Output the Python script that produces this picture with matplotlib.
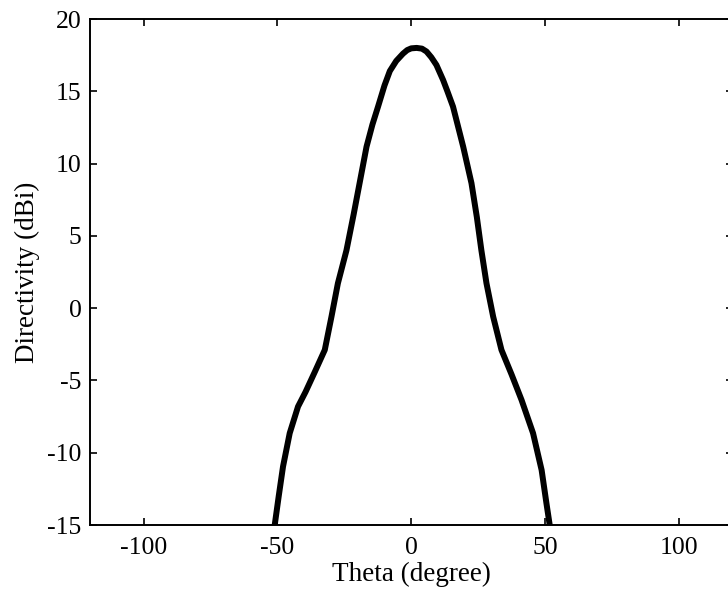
import numpy as np
import matplotlib
matplotlib.use("Agg")
import matplotlib.pyplot as plt

# directivity pattern
theta = [-53.0, -51.0, -49.5, -47.9, -45.4, -42.3, -39.5, -36.0, -32.3, -29.8,
         -27.4, -24.2, -21.5, -19.3, -16.7, -14.5, -12.4, -10.0, -8.0, -5.6,
         -3.1, -1.5, 0.0, 2.0, 4.0, 5.7, 7.5, 9.4, 11.9, 13.5,
         15.6, 19.4, 22.5, 24.5, 26.2, 28.1, 30.6, 33.7, 37.5, 41.2,
         45.5, 48.7, 50.5, 51.8, 53.0]
directivity = [-16.5, -15.0, -13.0, -10.96, -8.65, -6.81, -5.8, -4.4, -2.89, -0.59,
               1.72, 4.0, 6.5, 8.64, 11.17, 12.7, 13.94, 15.4, 16.4, 17.1,
               17.6, 17.85, 17.97, 18.0, 17.95, 17.75, 17.35, 16.82, 15.78, 15.0,
               13.94, 11.17, 8.64, 6.3, 4.0, 1.72, -0.59, -2.89, -4.6, -6.35,
               -8.65, -11.2, -13.5, -15.1, -16.5]

xticks = [-100, -50, 0, 50, 100]
yticks = [-15, -10, -5, 0, 5, 10, 15, 20]

plt.rcParams['font.family'] = ['Liberation Serif', 'DejaVu Serif']

fig = plt.figure(figsize=(7.28, 5.94), dpi=100)
ax = fig.add_axes([90 / 728, 69 / 594, 642.5 / 728, 506 / 594])

ax.plot(theta, directivity, color='black', lw=4.3,
        solid_joinstyle='round', solid_capstyle='butt')

ax.set_xlim(-120, 120)
ax.set_ylim(-15, 20)
ax.set_xticks(xticks)
ax.set_yticks(yticks)
ax.set_xticklabels([str(v) for v in xticks])
ax.set_yticklabels([str(v) for v in yticks])
ax.tick_params(direction='in', length=5, width=1.2, labelsize=18.5,
               top=True, right=True)
ax.tick_params(axis='x', pad=9)
ax.tick_params(axis='y', pad=6)
for s in ax.spines.values():
    s.set_linewidth(1.4)

ax.set_xlabel('Theta (degree)', fontsize=19.5, labelpad=2)
ax.set_ylabel('Directivity (dBi)', fontsize=19.5, labelpad=5)

fig.savefig('out.png', dpi=100)
